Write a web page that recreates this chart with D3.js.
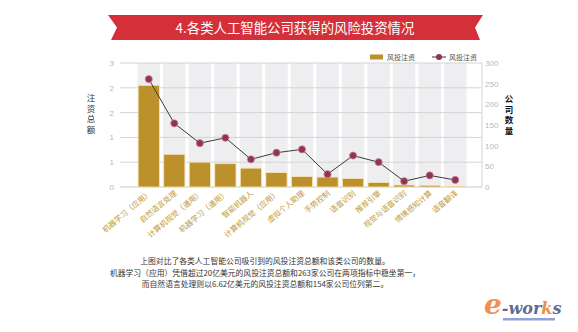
<!DOCTYPE html>
<html><head><meta charset="utf-8">
<script src="https://cdn.jsdelivr.net/npm/d3@7"></script>
<style>
html,body{margin:0;padding:0;background:#fff;}
svg{display:block;font-family:"Noto Sans CJK SC","Noto Sans",sans-serif;}
</style></head>
<body><svg id="c" width="578" height="332"></svg>
<script>
const title = "4.各类人工智能公司获得的风险投资情况";
const categories = ["机器学习（应用）","自然语言处理","计算机视觉（通用）","机器学习（通用）","智能机器人","计算机视觉（应用）","虚拟个人助理","手势控制","语音识别","推荐引擎","视觉与语音识别","情境感知计算","语音翻译"];
const funding = [2.05, 0.66, 0.50, 0.47, 0.38, 0.29, 0.21, 0.20, 0.17, 0.09, 0.04, 0.035, 0.02];
const companies = [261, 154, 106, 119, 67, 83, 91, 31, 76, 60, 14, 28, 17];
const leftTicks = [0, 0.5, 1, 1.5, 2, 2.5];
const rightTicks = [0, 50, 100, 150, 200, 250, 300];
const leftTitle = "注资总额";
const rightTitle = "公司数量";
const legendBar = "风投注资";
const legendLine = "风投注资";
const caption = ["上图对比了各类人工智能公司吸引到的风投注资总额和该类公司的数量。",
  "机器学习（应用）凭借超过20亿美元的风投注资总额和263家公司在两项指标中稳坐第一，",
  "而自然语言处理则以6.62亿美元的风投注资总额和154家公司位列第二。"];

const svg = d3.select("#c");
const PL = 120, PR = 482, PT = 63, PB = 187;

// title ribbon
svg.append("path")
  .attr("d", "M108,15 L483,15 L475,27.5 L480,40 L111,40 L117,27.5 Z")
  .attr("fill", "#d5303a");
svg.append("text").attr("x", 295).attr("y", 33).attr("text-anchor", "middle")
  .attr("fill", "#fff").attr("font-size", 13.4).text(title);

const x = d3.scaleBand().domain(categories).range([136, 468]).paddingInner(0.17).paddingOuter(0.085);
const xs = d3.scaleBand().domain(categories).range([136, 468]);
const yL = d3.scaleLinear().domain([0, 2.5]).range([PB, PT]);
const yR = d3.scaleLinear().domain([0, 300]).range([PB, PT]);

// column shading
svg.append("g").selectAll("rect").data(categories).join("rect")
  .attr("x", d => xs(d) + 1.5).attr("width", xs.bandwidth() - 3)
  .attr("y", PT).attr("height", PB - PT).attr("fill", "#eeeef1");

// grid
svg.append("g").selectAll("line").data(leftTicks).join("line")
  .attr("x1", PL).attr("x2", PR).attr("y1", d => yL(d)).attr("y2", d => yL(d))
  .attr("stroke", d => d === 0 ? "#c8c8c8" : "#d4d4d4").attr("stroke-width", 1);
svg.append("line").attr("x1", PR).attr("x2", PR).attr("y1", PT).attr("y2", PB)
  .attr("stroke", "#d4d4d4");

// axis labels
const axL = d3.axisLeft(yL).tickValues(leftTicks).tickFormat(d => String(Math.round(d))).tickSize(0).tickPadding(0);
svg.append("g").attr("transform", `translate(${PL - 6},0)`).call(axL)
  .call(g => g.select(".domain").remove())
  .call(g => g.selectAll("text").attr("fill", "#b8b8b8").attr("font-size", 8).attr("font-family", "Liberation Sans, sans-serif"));
const axR = d3.axisRight(yR).tickValues(rightTicks).tickSize(0).tickPadding(0);
svg.append("g").attr("transform", `translate(${PR + 3},0)`).call(axR)
  .call(g => g.select(".domain").remove())
  .call(g => g.selectAll("text").attr("fill", "#b8b8b8").attr("font-size", 8).attr("font-family", "Liberation Sans, sans-serif"));

// axis titles (vertical)
svg.append("g").selectAll("text").data(leftTitle.split("")).join("text")
  .attr("x", 91).attr("y", (d, i) => 101 + i * 10.5).attr("text-anchor", "middle")
  .attr("font-size", 8.5).attr("fill", "#333").text(d => d);
svg.append("g").selectAll("text").data(rightTitle.split("")).join("text")
  .attr("x", 509).attr("y", (d, i) => 102 + i * 10.5).attr("text-anchor", "middle")
  .attr("font-size", 8.5).attr("font-weight", "bold").attr("fill", "#111").text(d => d);

// bars
svg.append("g").selectAll("rect").data(funding).join("rect")
  .attr("x", (d, i) => x(categories[i])).attr("width", x.bandwidth())
  .attr("y", d => yL(d)).attr("height", d => yL(0) - yL(d))
  .attr("fill", "#bc912c").attr("stroke", "#f4e7bd").attr("stroke-width", 0.8);

// line
const cx = i => x(categories[i]) + x.bandwidth() / 2;
svg.append("path").datum(companies)
  .attr("d", d3.line().x((d, i) => cx(i)).y(d => yR(d)))
  .attr("fill", "none").attr("stroke", "#3b3b3b").attr("stroke-width", 1);
svg.append("g").selectAll("circle").data(companies).join("circle")
  .attr("cx", (d, i) => cx(i)).attr("cy", d => yR(d)).attr("r", 3.6)
  .attr("fill", "#8d3652").attr("stroke", "#d88a9c").attr("stroke-width", 0.7);

// x labels
svg.append("g").selectAll("text").data(categories).join("text")
  .attr("transform", d => `translate(${x(d) + x.bandwidth() / 2 + 3},194) rotate(-40)`)
  .attr("text-anchor", "end").attr("font-size", 7.6).attr("fill", "#bf9a32").text(d => d);

// legend
svg.append("rect").attr("x", 370).attr("y", 54.5).attr("width", 13).attr("height", 5).attr("fill", "#bc912c");
svg.append("text").attr("x", 387).attr("y", 60).attr("font-size", 7).attr("fill", "#555").text(legendBar);
svg.append("line").attr("x1", 432).attr("x2", 446).attr("y1", 57).attr("y2", 57).attr("stroke", "#3b3b3b");
svg.append("circle").attr("cx", 439).attr("cy", 57).attr("r", 3).attr("fill", "#8d3652");
svg.append("text").attr("x", 449).attr("y", 60).attr("font-size", 7).attr("fill", "#555").text(legendLine);

// caption
svg.append("g").selectAll("text").data(caption).join("text")
  .attr("x", 265).attr("y", (d, i) => 264 + i * 11.7).attr("text-anchor", "middle")
  .attr("font-size", 7.8).attr("fill", "#333").text(d => d);

// logo
const logo = svg.append("text").attr("x", 484).attr("y", 314)
  .attr("font-family", "DejaVu Serif, Liberation Serif, serif").attr("font-style", "italic").attr("font-weight", "bold");
logo.append("tspan").attr("font-size", 28).attr("fill", "#f29050").text("e");
logo.append("tspan").attr("font-size", 16).attr("fill", "#5f6d8e").text("-wor");
logo.append("tspan").attr("font-size", 16).attr("fill", "#f08c44").text("k");
logo.append("tspan").attr("font-size", 16).attr("fill", "#5f6d8e").text("s");
svg.append("rect").attr("x", 503).attr("y", 318).attr("width", 52).attr("height", 2.5).attr("fill", "#8ea2d8");
</script></body></html>
